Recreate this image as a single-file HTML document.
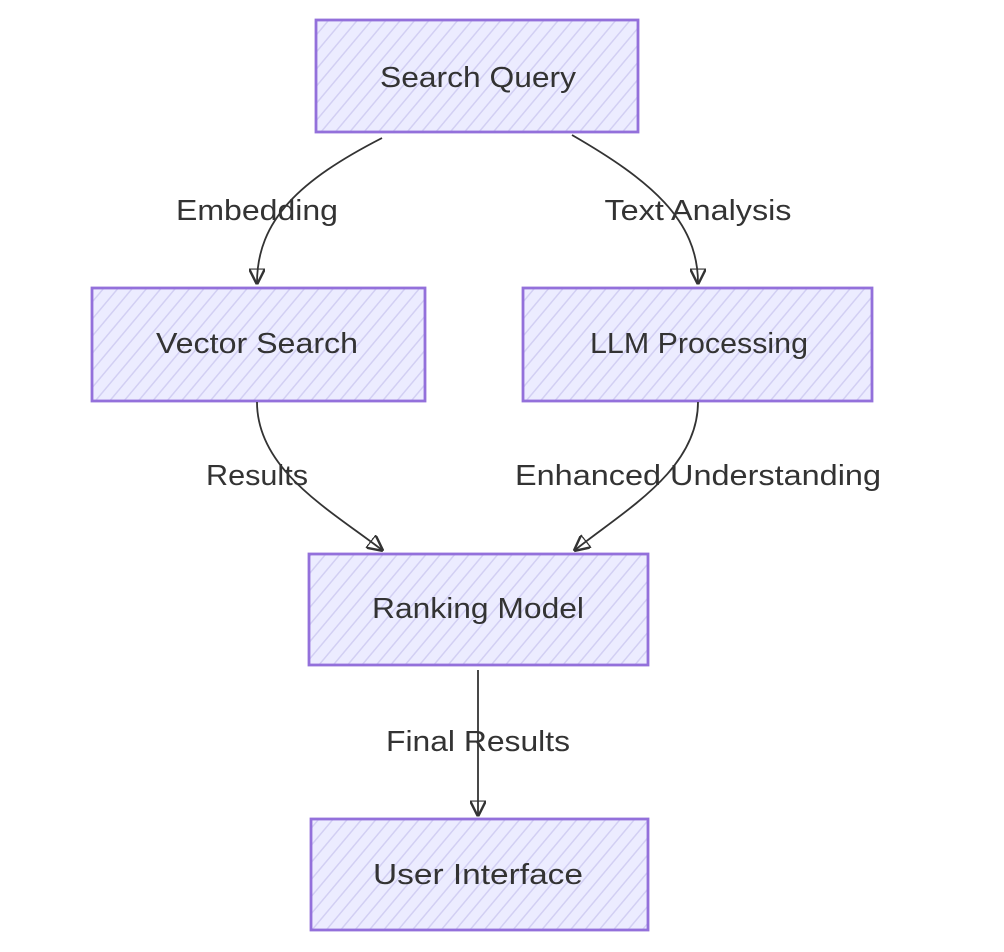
<!DOCTYPE html>
<html><head><meta charset="utf-8"><style>
html,body{margin:0;padding:0;background:#fff;width:1004px;height:952px;overflow:hidden}
text{font-family:"Liberation Sans",sans-serif;font-size:29px;fill:#333}
</style></head><body>
<svg width="1004" height="952" viewBox="0 0 1004 952" xmlns="http://www.w3.org/2000/svg">
<defs>
<pattern id="h" patternUnits="userSpaceOnUse" width="11" height="11" patternTransform="rotate(40)">
<rect width="11" height="11" fill="#ececff"/>
<line x1="0" y1="0" x2="0" y2="11" stroke="#d2cff3" stroke-width="3"/>
</pattern>
<marker id="a" viewBox="0 0 10 10" refX="9" refY="5" markerWidth="9" markerHeight="9" orient="auto">
<path d="M0,0 L10,5 L0,10 z" fill="none" stroke="#333" stroke-width="1.5"/>
</marker>
</defs>
<g fill="url(#h)" stroke="#9370db" stroke-width="2.8">
<rect x="316" y="20" width="322" height="112"/>
<rect x="92" y="288" width="333" height="113"/>
<rect x="523" y="288" width="349" height="113"/>
<rect x="309" y="554" width="339" height="111"/>
<rect x="311" y="819" width="337" height="111"/>
</g>
<g fill="none" stroke="#333" stroke-width="1.8">
<path d="M382,138 C300,180 257,220 257,283" marker-end="url(#a)"/>
<path d="M572,135 C650,180 698,220 698,283" marker-end="url(#a)"/>
<path d="M257,402 C257,470 330,510 382,550" marker-end="url(#a)"/>
<path d="M698,402 C698,470 625,510 575,550" marker-end="url(#a)"/>
<path d="M478,670 L478,815" marker-end="url(#a)"/>
</g>
<g text-anchor="middle" dominant-baseline="central">
<text x="478" y="78" textLength="196" lengthAdjust="spacingAndGlyphs">Search Query</text>
<text x="257" y="344" textLength="202" lengthAdjust="spacingAndGlyphs">Vector Search</text>
<text x="699" y="344" textLength="218" lengthAdjust="spacingAndGlyphs">LLM Processing</text>
<text x="478" y="609" textLength="212" lengthAdjust="spacingAndGlyphs">Ranking Model</text>
<text x="478" y="875" textLength="210" lengthAdjust="spacingAndGlyphs">User Interface</text>
<text x="257" y="211" textLength="162" lengthAdjust="spacingAndGlyphs">Embedding</text>
<text x="698" y="211" textLength="187" lengthAdjust="spacingAndGlyphs">Text Analysis</text>
<text x="257" y="476" textLength="102" lengthAdjust="spacingAndGlyphs">Results</text>
<text x="698" y="476" textLength="366" lengthAdjust="spacingAndGlyphs">Enhanced Understanding</text>
<text x="478" y="742" textLength="184" lengthAdjust="spacingAndGlyphs">Final Results</text>
</g>
</svg>
</body></html>
